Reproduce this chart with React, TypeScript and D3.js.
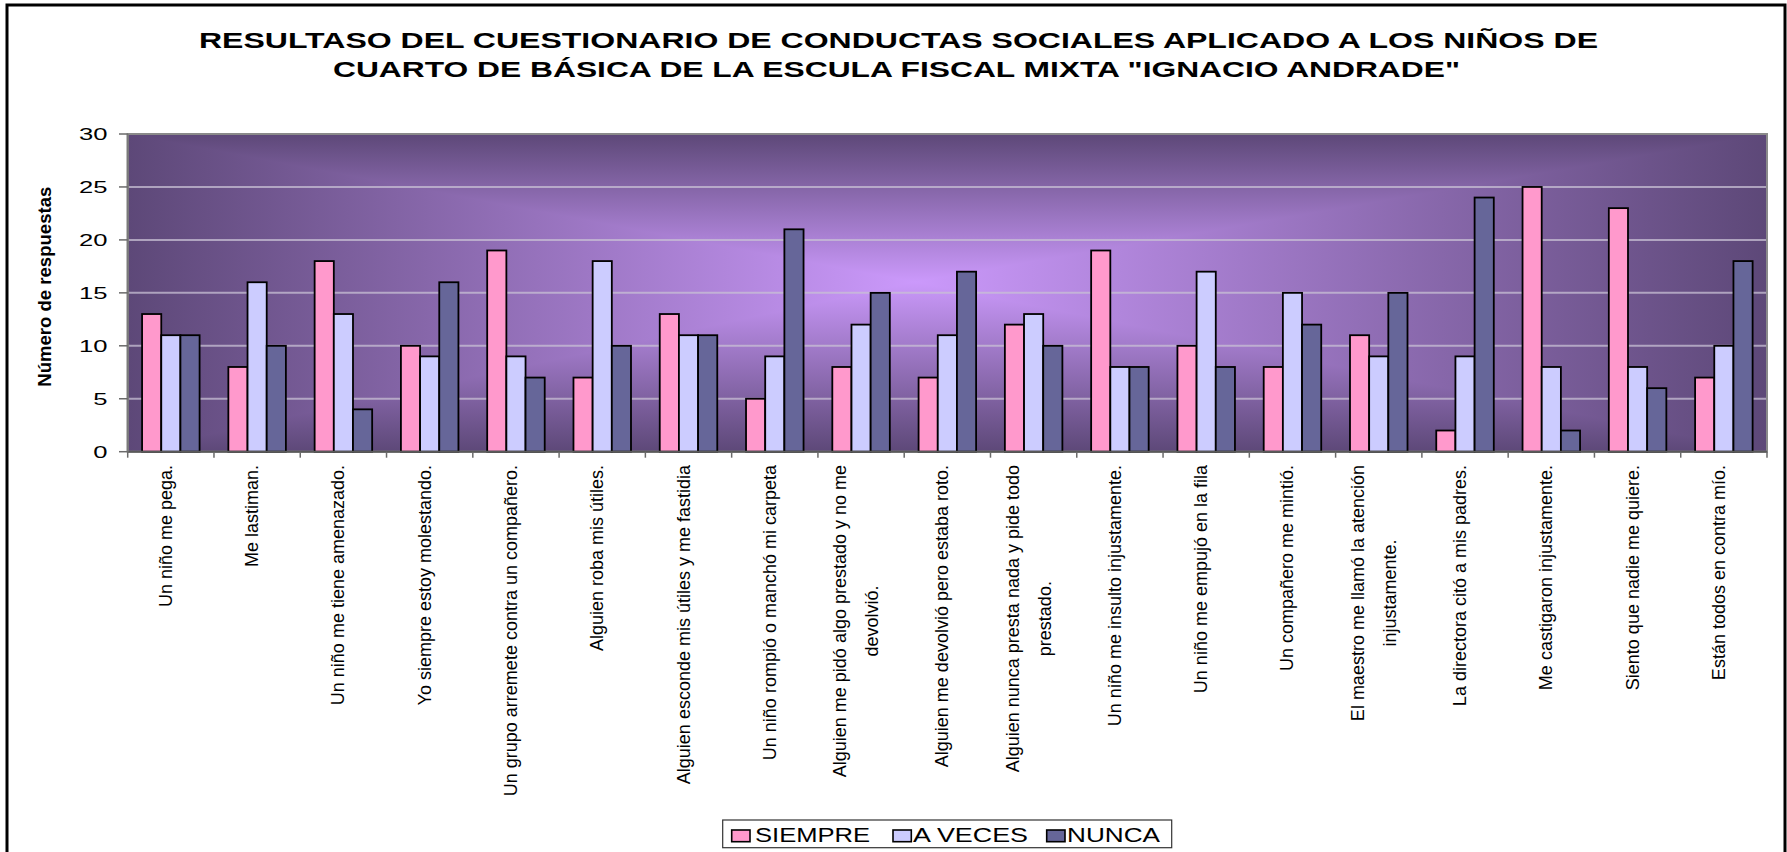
import React from "react";
import * as d3 from "d3";

const titleLines = [
  "RESULTASO DEL CUESTIONARIO DE CONDUCTAS SOCIALES APLICADO A LOS NIÑOS DE",
  'CUARTO DE BÁSICA DE LA ESCULA FISCAL MIXTA "IGNACIO ANDRADE"',
];
const yAxisTitle = "Número de respuestas";

const categories = [
  ["Un niño me pega."],
  ["Me lastiman."],
  ["Un niño me tiene amenazado."],
  ["Yo siempre estoy molestando."],
  ["Un grupo arremete contra un compañero."],
  ["Alguien roba mis útiles."],
  ["Alguien esconde mis útiles y me fastidia"],
  ["Un niño rompió o manchó mi carpeta"],
  ["Alguien me pidó algo prestado y no me", "devolvió."],
  ["Alguien me devolvió pero estaba roto."],
  ["Alguien nunca presta nada y pide todo", "prestado."],
  ["Un niño me insulto injustamente."],
  ["Un niño me empujó en la fila"],
  ["Un compañero me mintió."],
  ["El maestro me llamó la atención", "injustamente."],
  ["La directora citó a mis padres."],
  ["Me castigaron injustamente."],
  ["Siento que nadie me quiere."],
  ["Están todos en contra mío."],
];

const seriesNames = ["SIEMPRE", "A VECES", "NUNCA"];
const siempre = [13, 8, 18, 10, 19, 7, 13, 5, 8, 7, 12, 19, 10, 8, 11, 2, 25, 23, 7];
const aVeces = [11, 16, 13, 9, 9, 18, 11, 9, 12, 11, 13, 8, 17, 15, 9, 9, 8, 8, 10];
const nunca = [11, 10, 4, 16, 7, 10, 11, 21, 15, 17, 10, 8, 8, 12, 15, 24, 2, 6, 18];
const seriesValues = [siempre, aVeces, nunca];
const seriesColors = ["#FF99CC", "#CCCCFF", "#666699"];
const yTicks = [0, 5, 10, 15, 20, 25, 30];

const FONT = "'Liberation Sans', Arial, Helvetica, sans-serif";

const W = 1787;
const H = 852;
const PL = 127.7;
const PR = 1767;
const PT = 134;
const PB = 451.7;
const GCX = 915;
const GCY = 282;
const EDGE = "#5D4878";
const CENTER = "#CB99FB";

let measureCtx: CanvasRenderingContext2D | null = null;
function measure(text: string, size: number): number {
  if (!measureCtx) {
    const c = document.createElement("canvas");
    measureCtx = c.getContext("2d");
  }
  if (!measureCtx) return text.length * size * 0.5;
  measureCtx.font = `${size}px 'Liberation Sans', Arial, sans-serif`;
  return measureCtx.measureText(text).width;
}

export default function App() {
  const keys = categories.map((c, i) => String(i));
  const x = d3.scaleBand<string>().domain(keys).range([PL, PR]).paddingInner(0).paddingOuter(0);
  const xs = d3
    .scaleBand<string>()
    .domain(seriesNames)
    .range([0, x.bandwidth()])
    .paddingInner(0)
    .paddingOuter(0.75);
  const y = d3.scaleLinear().domain([0, 30]).range([PB, PT]);

  const labelSize = 18;
  const labelTop = 465;
  const lineGap = 32;

  const legendItems = [
    { mx: 731.7, tx: 755, tl: 115 },
    { mx: 893, tx: 913, tl: 115 },
    { mx: 1046.7, tx: 1067, tl: 93 },
  ];

  return (
    <svg
      width={W}
      height={H}
      style={{ position: "absolute", left: 0, top: 0, background: "#fff" }}
      fontFamily={FONT}
    >
      <defs>
        <linearGradient id="gTop" gradientUnits="userSpaceOnUse" x1={0} y1={PT} x2={0} y2={GCY}>
          <stop offset="0" stopColor={EDGE} />
          <stop offset="1" stopColor={CENTER} />
        </linearGradient>
        <linearGradient id="gBot" gradientUnits="userSpaceOnUse" x1={0} y1={PB} x2={0} y2={GCY}>
          <stop offset="0" stopColor={EDGE} />
          <stop offset="1" stopColor={CENTER} />
        </linearGradient>
        <linearGradient id="gLeft" gradientUnits="userSpaceOnUse" x1={PL} y1={0} x2={GCX} y2={0}>
          <stop offset="0" stopColor={EDGE} />
          <stop offset="1" stopColor={CENTER} />
        </linearGradient>
        <linearGradient id="gRight" gradientUnits="userSpaceOnUse" x1={PR} y1={0} x2={GCX} y2={0}>
          <stop offset="0" stopColor={EDGE} />
          <stop offset="1" stopColor={CENTER} />
        </linearGradient>
      </defs>

      <rect x={7} y={5} width={1778} height={852} fill="#fff" stroke="#000" strokeWidth={3} />

      {titleLines.map((t, i) => (
        <text
          key={i}
          x={i === 0 ? 199 : 333}
          y={i === 0 ? 48 : 76.5}
          fontSize={22}
          fontWeight="bold"
          textLength={i === 0 ? 1399 : 1127}
          lengthAdjust="spacingAndGlyphs"
          fill="#000"
        >
          {t}
        </text>
      ))}

      {/* plot background: rectangular "from center" gradient */}
      <g shapeRendering="crispEdges">
        <polygon points={`${PL},${PT} ${PR},${PT} ${GCX},${GCY}`} fill="url(#gTop)" stroke="url(#gTop)" strokeWidth={0.6} />
        <polygon points={`${PL},${PB} ${PR},${PB} ${GCX},${GCY}`} fill="url(#gBot)" stroke="url(#gBot)" strokeWidth={0.6} />
        <polygon points={`${PL},${PT} ${PL},${PB} ${GCX},${GCY}`} fill="url(#gLeft)" stroke="url(#gLeft)" strokeWidth={0.6} />
        <polygon points={`${PR},${PT} ${PR},${PB} ${GCX},${GCY}`} fill="url(#gRight)" stroke="url(#gRight)" strokeWidth={0.6} />
      </g>

      {yTicks
        .filter((t) => t > 0 && t < 30)
        .map((t) => (
          <line key={t} x1={PL} x2={PR} y1={y(t)} y2={y(t)} stroke="#C8C0D4" strokeOpacity={0.75} strokeWidth={2} />
        ))}

      <rect x={PL} y={PT} width={PR - PL} height={PB - PT} fill="none" stroke="#8A8A8A" strokeWidth={2} />

      {categories.map((c, i) =>
        seriesValues.map((vals, s) => {
          const bx = (x(String(i)) as number) + (xs(seriesNames[s]) as number);
          return (
            <rect
              key={`${i}-${s}`}
              x={bx}
              y={y(vals[i])}
              width={xs.bandwidth()}
              height={PB - y(vals[i])}
              fill={seriesColors[s]}
              stroke="#000"
              strokeWidth={1.8}
            />
          );
        })
      )}

      <line x1={PL} x2={PR} y1={PB} y2={PB} stroke="#5A5A5A" strokeWidth={2} />
      <line x1={PL} x2={PL} y1={PT} y2={PB} stroke="#7A7A7A" strokeWidth={2} />

      {yTicks.map((t) => (
        <g key={t}>
          <line x1={119} x2={PL} y1={y(t)} y2={y(t)} stroke="#6A6A6A" strokeWidth={1.5} />
          <text
            transform={`translate(107.5,${y(t) + 6}) scale(1.6,1)`}
            textAnchor="end"
            fontSize={16}
            fill="#000"
          >
            {t}
          </text>
        </g>
      ))}

      {d3.range(categories.length + 1).map((i) => {
        const xx = PL + i * x.step();
        return <line key={i} x1={xx} x2={xx} y1={PB} y2={PB + 6} stroke="#6A6A6A" strokeWidth={1.5} />;
      })}

      <text
        transform={`translate(51,286.7) rotate(-90)`}
        textAnchor="middle"
        fontSize={18}
        fontWeight="bold"
        textLength={200}
        lengthAdjust="spacingAndGlyphs"
        fill="#000"
      >
        {yAxisTitle}
      </text>

      {categories.map((lines, i) => {
        const cx = (x(String(i)) as number) + x.bandwidth() / 2;
        const lens = lines.map((l) => measure(l, labelSize));
        const maxLen = Math.max(...lens);
        return (
          <g key={i}>
            {lines.map((l, j) => {
              const bx = cx + 1 + (j - (lines.length - 1) / 2) * lineGap;
              const ty = labelTop + (maxLen - lens[j]) / 2;
              return (
                <text
                  key={j}
                  transform={`translate(${bx},${ty}) rotate(-90)`}
                  textAnchor="end"
                  fontSize={labelSize}
                  fill="#000"
                >
                  {l}
                </text>
              );
            })}
          </g>
        );
      })}

      <rect x={722.7} y={820} width={449} height={27.7} fill="#fff" stroke="#333" strokeWidth={1.2} />
      {legendItems.map((it, s) => (
        <g key={s}>
          <rect x={it.mx} y={830} width={18.3} height={11.7} fill={seriesColors[s]} stroke="#000" strokeWidth={1.6} />
          <text
            x={it.tx}
            y={842}
            fontSize={19.5}
            textLength={it.tl}
            lengthAdjust="spacingAndGlyphs"
            fill="#000"
          >
            {seriesNames[s]}
          </text>
        </g>
      ))}
    </svg>
  );
}
